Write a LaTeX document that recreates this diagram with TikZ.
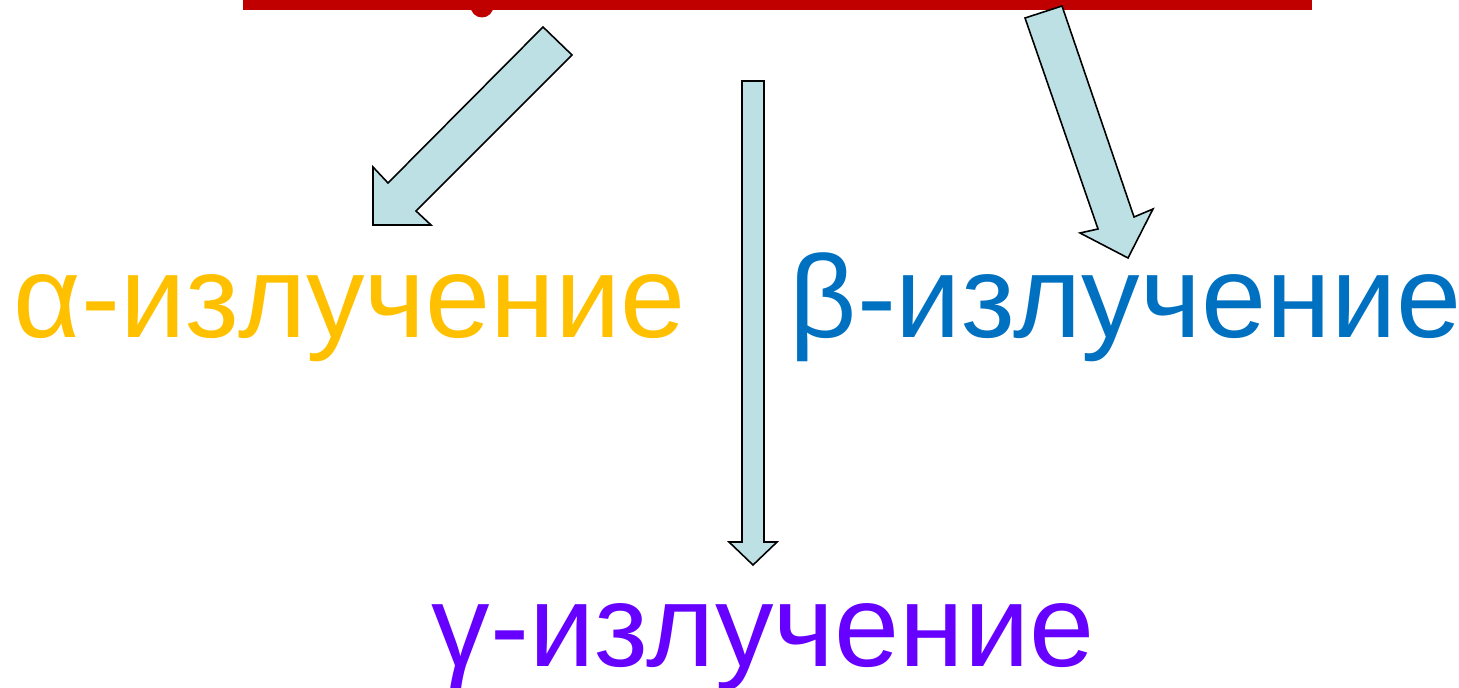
\documentclass[tikz,border=0pt]{standalone}
\usepackage{fontspec}
\setmainfont{Liberation Sans}
\usepackage{xcolor}
\definecolor{barred}{HTML}{C00000}
\definecolor{arrowfill}{HTML}{BCE0E3}
\definecolor{alphacol}{HTML}{FFC000}
\definecolor{betacol}{HTML}{0070C0}
\definecolor{gammacol}{HTML}{6600FF}

\begin{document}
\begin{tikzpicture}[
    label/.style={anchor=base west, inner sep=0pt, font=\fontsize{33.3}{40}\selectfont},
    blockarrow/.style={draw=black, fill=arrowfill, line width=0.45pt, line join=miter}
]
    \useasboundingbox (0,0) rectangle (14.59,-6.88);

    % Red bar
    \fill[barred] (4.82,-0.06) circle (0.115);
    \fill[barred] (2.43,0) rectangle (13.12,-0.10);

    % Nodes
    \node[label, text=alphacol] (alpha) at (0.13,-3.38) {α-излучение};
    \node[label, text=betacol] (beta) at (7.89,-3.38) {β-излучение};
    \node[label, text=gammacol] (gamma) at (4.31,-6.66) {γ-излучение};

    % Arrows
    \draw[blockarrow] (5.43,-0.27) -- (5.72,-0.55) -- (4.16,-2.11) -- (4.31,-2.25)
        -- (3.73,-2.25) -- (3.73,-1.67) -- (3.88,-1.83) -- cycle;
    \draw[blockarrow] (7.42,-0.81) -- (7.64,-0.81) -- (7.64,-5.42) -- (7.77,-5.42)
        -- (7.53,-5.65) -- (7.29,-5.42) -- (7.42,-5.42) -- cycle;
    \draw[blockarrow] (10.25,-0.18) -- (10.62,-0.06) -- (11.34,-2.17) -- (11.53,-2.09)
        -- (11.28,-2.58) -- (10.80,-2.33) -- (10.98,-2.29) -- cycle;
\end{tikzpicture}
\end{document}
